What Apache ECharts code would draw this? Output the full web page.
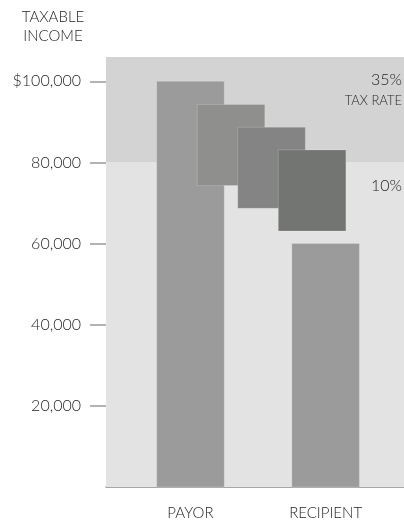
<!DOCTYPE html>
<html>
<head>
<meta charset="utf-8">
<script src="https://cdn.jsdelivr.net/npm/echarts@6/dist/echarts.min.js"></script>
<style>
html, body { margin: 0; padding: 0; background: #fff; }
#main { width: 404px; height: 523px; }
</style>
</head>
<body>
<div id="main"></div>
<script>
var categories = ["PAYOR", "RECIPIENT"];
var categoryX = [1, 2];
// blocks sliding from payor to recipient: x value, bottom, top
var blockX = [1, 1.3, 1.6, 1.9, 2];
var blockLow = [0, 74300, 68700, 63100, 0];
var blockHigh = [100000, 94300, 88700, 83100, 60000];
// tax brackets (background bands)
var bracketLow = [0, 80000];
var bracketHigh = [80000, 106000];
var bracketRates = ["10%", "35%"];
var yTicks = [20000, 40000, 60000, 80000, 100000];

var blockColors = ["#9b9b9b", "#8f8f8d", "#848484", "#737572", "#9b9b9b"];
var bracketColors = ["#e3e3e3", "#d3d3d3"];
var FONT = "Lato";
var TEXT = "#262626";

var chartDom = document.getElementById("main");
var myChart = echarts.init(chartDom);

var blockData = blockX.map(function (x, i) {
  return [x, blockLow[i], blockHigh[i]];
});
var bracketData = bracketLow.map(function (lo, i) {
  return [lo, bracketHigh[i]];
});

myChart.setOption({
  animation: false,
  textStyle: { fontFamily: FONT, fontWeight: 300 },
  grid: { left: 106, right: 0, top: 57, bottom: 36 },
  title: {
    text: "TAXABLE\nINCOME",
    left: 48,
    top: 3,
    textAlign: "center",
    textStyle: { fontFamily: FONT, fontSize: 15, fontWeight: 300, color: TEXT, lineHeight: 19 },
  },
  xAxis: {
    type: "value",
    min: 0.375,
    max: 2.58,
    splitLine: { show: false },
    axisLine: { show: true, onZero: false, lineStyle: { color: "#8a8a8a", width: 1.5 } },
    axisTick: { show: false },
    axisLabel: {
      customValues: categoryX,
      margin: 19,
      fontSize: 15,
      fontWeight: 300,
      color: TEXT,
      formatter: function (v) {
        var i = categoryX.indexOf(v);
        return i >= 0 ? categories[i] : "";
      },
    },
  },
  yAxis: {
    type: "value",
    min: 0,
    max: 106000,
    splitLine: { show: false },
    axisLine: { show: false },
    axisTick: {
      show: true,
      customValues: yTicks,
      length: 16,
      lineStyle: { color: "#9a9a9a", width: 1.5 },
    },
    axisLabel: {
      customValues: yTicks,
      margin: 25,
      fontSize: 16,
      fontWeight: 300,
      color: TEXT,
      formatter: function (v) {
        var s = v.toLocaleString("en-US");
        return v === 100000 ? "$" + s : s;
      },
    },
  },
  series: [
    {
      type: "custom",
      z: 1,
      silent: true,
      data: bracketData,
      renderItem: function (params, api) {
        var cs = params.coordSys;
        var top = api.coord([0, api.value(1)])[1];
        var bottom = api.coord([0, api.value(0)])[1];
        return {
          type: "rect",
          shape: { x: cs.x, y: top, width: cs.width, height: bottom - top },
          style: { fill: bracketColors[params.dataIndex] },
        };
      },
    },
    {
      type: "custom",
      z: 2,
      silent: true,
      data: blockData,
      renderItem: function (params, api) {
        var x = api.value(0);
        var p1 = api.coord([x - 0.25, api.value(2)]);
        var p2 = api.coord([x + 0.25, api.value(1)]);
        return {
          type: "rect",
          shape: { x: p1[0], y: p1[1], width: p2[0] - p1[0], height: p2[1] - p1[1] },
          style: {
            fill: blockColors[params.dataIndex],
            stroke: "rgba(255,255,255,0.18)",
            lineWidth: 1,
          },
        };
      },
    },
  ],
  graphic: [
    {
      type: "text",
      right: 2,
      top: 72,
      z: 10,
      style: { text: bracketRates[1], font: "300 16px " + FONT, fill: TEXT },
    },
    {
      type: "text",
      right: 2,
      top: 94,
      z: 10,
      style: { text: "TAX RATE", font: "300 13px " + FONT, fill: TEXT },
    },
    {
      type: "text",
      right: 2,
      top: 178,
      z: 10,
      style: { text: bracketRates[0], font: "300 16px " + FONT, fill: TEXT },
    },
  ],
});
</script>
</body>
</html>
